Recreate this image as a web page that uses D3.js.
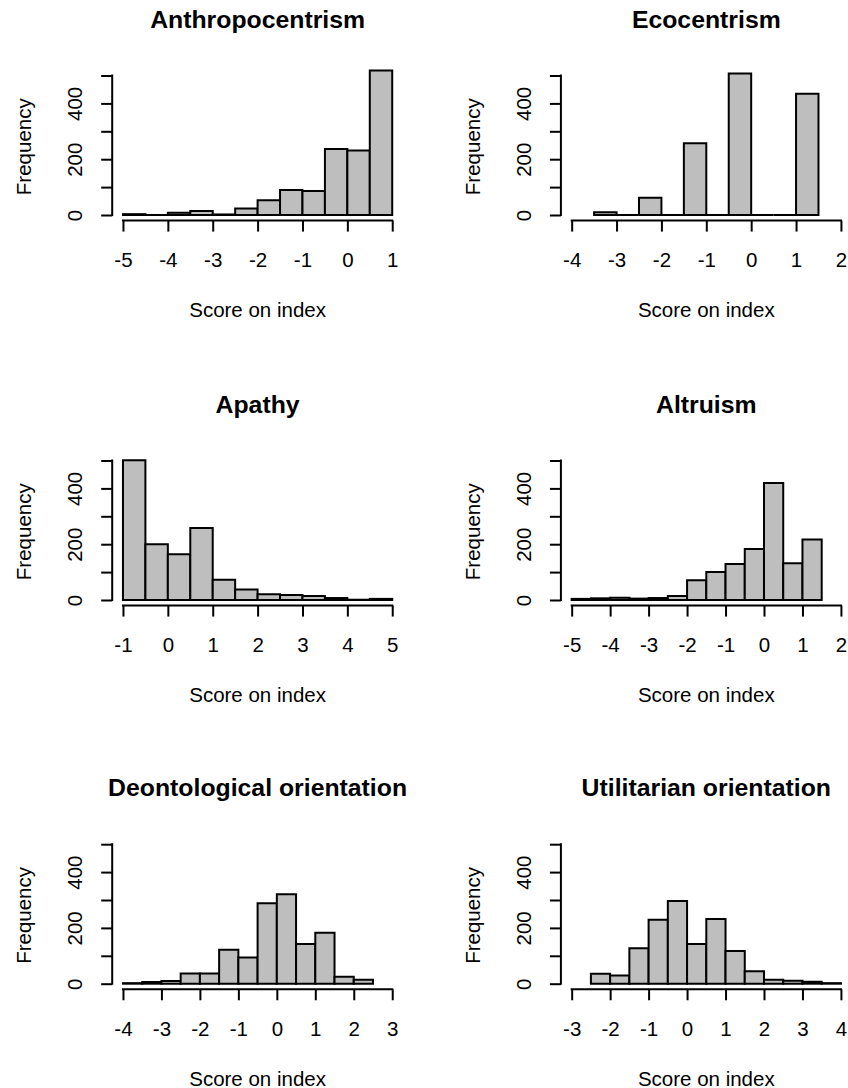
<!DOCTYPE html>
<html>
<head>
<meta charset="utf-8">
<script src="https://cdn.jsdelivr.net/npm/d3@7"></script>
<style>
  html, body { margin: 0; padding: 0; background: #ffffff; }
  svg text { font-family: "Liberation Sans", Arial, Helvetica, sans-serif; fill: #000; }
</style>
</head>
<body>
<svg id="chart" width="848" height="1088"></svg>
<script>
// ---------- data ----------
const titles = ["Anthropocentrism", "Ecocentrism", "Apathy", "Altruism",
                "Deontological orientation", "Utilitarian orientation"];
const xLimits = [[-5, 1], [-4, 2], [-1, 5], [-5, 2], [-4, 3], [-3, 4]];
const binStarts = [-5, -3.5, -1, -5, -4, -2.5];
const binWidth = 0.5;
const anthropocentrism = [3, 0, 8, 14, 2, 23, 53, 90, 86, 237, 231, 518];
const ecocentrism      = [10, 0, 62, 0, 257, 0, 507, 0, 0, 435];
const apathy           = [501, 200, 164, 258, 73, 38, 21, 18, 14, 7, 1, 4];
const altruism         = [4, 6, 8, 5, 7, 14, 71, 100, 129, 183, 419, 132, 217];
const deontological    = [2, 6, 10, 37, 37, 122, 94, 288, 321, 142, 183, 25, 14];
const utilitarian      = [36, 29, 127, 229, 296, 142, 232, 117, 45, 14, 11, 7, 2];
const seriesCounts = [anthropocentrism, ecocentrism, apathy, altruism, deontological, utilitarian];
const yTicks = [0, 100, 200, 300, 400, 500];
const yLabelled = [0, 200, 400];
const xLabel = "Score on index";
const yLabel = "Frequency";

// ---------- layout ----------
const svg = d3.select("#chart");
const colLeft = [112.2, 560.9];
const plotW = 290.8;
const rowZero = [215, 600, 983.7];
const yUnit = 139.5 / 500;   // px per count
const lw = 2;

titles.forEach((title, i) => {
  const col = i % 2, row = Math.floor(i / 2);
  const [lo, hi] = xLimits[i];
  const ext = 0.04 * (hi - lo);
  const x = d3.scaleLinear().domain([lo - ext, hi + ext]).range([colLeft[col], colLeft[col] + plotW]);
  const y0 = rowZero[row];
  const y = d3.scaleLinear().domain([-20, 520]).range([y0 + 20 * yUnit, y0 - 520 * yUnit]);
  const g = svg.append("g");

  // bars (paths so zero-count bins still show as a line)
  const bins = seriesCounts[i].map((c, k) => ({
    x0: binStarts[i] + k * binWidth,
    x1: binStarts[i] + (k + 1) * binWidth,
    c
  }));
  g.selectAll("path.bar").data(bins).join("path")
    .attr("class", "bar")
    .attr("d", d => {
      const p = d3.path();
      p.moveTo(x(d.x0), y(0));
      p.lineTo(x(d.x0), y(d.c));
      p.lineTo(x(d.x1), y(d.c));
      p.lineTo(x(d.x1), y(0));
      p.closePath();
      return p.toString();
    })
    .attr("fill", "#bebebe")
    .attr("stroke", "#000")
    .attr("stroke-width", lw)
    .attr("stroke-linejoin", "miter");

  // x axis
  const xTicks = d3.range(lo, hi + 1);
  const axisY = y(-20);
  const xa = g.append("g").attr("transform", `translate(0,${axisY})`)
    .call(d3.axisBottom(x).tickValues(xTicks).tickSize(11).tickSizeOuter(0).tickFormat(d3.format("d")));
  xa.select(".domain").remove();
  xa.append("line").attr("x1", x(lo)).attr("x2", x(hi)).attr("y1", 0).attr("y2", 0)
    .attr("stroke", "#000").attr("stroke-width", lw).attr("stroke-linecap", "square");
  xa.selectAll(".tick line").attr("stroke", "#000").attr("stroke-width", lw);
  xa.selectAll(".tick text").attr("y", y0 + 52.3 - axisY).attr("dy", 0)
    .style("font-size", "20.5px").style("font-family", "'Liberation Sans', Arial, sans-serif")
    .text(d => d < 0 ? "-" + Math.abs(d) : String(d));

  // y axis
  const axisX = x.range()[0];
  const ya = g.append("g").attr("transform", `translate(${axisX},0)`)
    .call(d3.axisLeft(y).tickValues(yTicks).tickSize(11).tickSizeOuter(0).tickFormat(""));
  ya.select(".domain").remove();
  ya.append("line").attr("x1", 0).attr("x2", 0).attr("y1", y(0)).attr("y2", y(500))
    .attr("stroke", "#000").attr("stroke-width", lw).attr("stroke-linecap", "square");
  ya.selectAll(".tick line").attr("stroke", "#000").attr("stroke-width", lw);
  ya.selectAll(".tick").filter(d => yLabelled.includes(d))
    .append("text")
    .attr("transform", "translate(-30,0) rotate(-90)")
    .attr("text-anchor", "middle")
    .style("font-size", "20.5px")
    .text(d => d);

  // titles and axis labels
  const cx = x.range()[0] + plotW / 2;
  g.append("text").attr("x", cx).attr("y", y0 - 187.3)
    .attr("text-anchor", "middle").style("font-size", "24.8px").style("font-weight", "bold")
    .text(title);
  g.append("text").attr("x", cx).attr("y", y0 + 102.3)
    .attr("text-anchor", "middle").style("font-size", "20.5px")
    .text(xLabel);
  g.append("text")
    .attr("transform", `translate(${axisX - 81},${(y(-20) + y(520)) / 2 + 1.5}) rotate(-90)`)
    .attr("text-anchor", "middle").style("font-size", "20.5px")
    .text(yLabel);
});
</script>
</body>
</html>
